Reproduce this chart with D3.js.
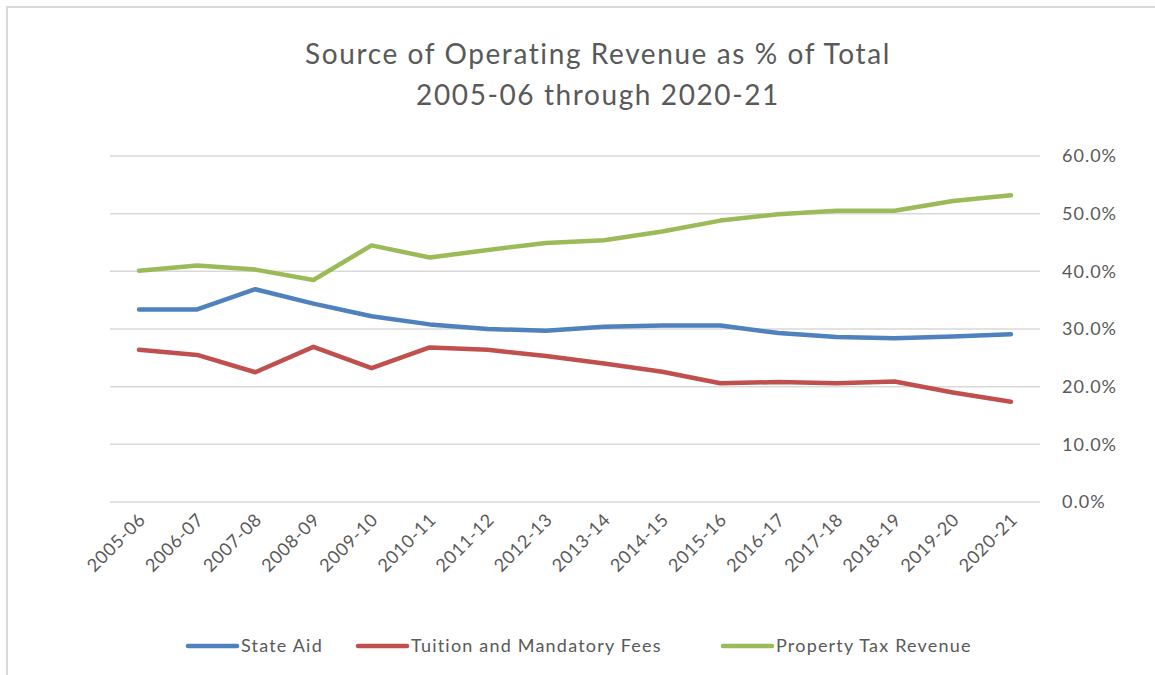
<!DOCTYPE html>
<html>
<head>
<meta charset="utf-8">
<script src="https://cdn.jsdelivr.net/npm/d3@7"></script>
<style>
  body { margin: 0; background: #fff; }
  text { font-family: Lato, "Open Sans", sans-serif; fill: #595959; }
</style>
</head>
<body>
<script>
const width = 1155;
const height = 675;

// school years along the x axis
const years = ["2005-06", "2006-07", "2007-08", "2008-09", "2009-10", "2010-11", "2011-12", "2012-13",
	"2013-14", "2014-15", "2015-16", "2016-17", "2017-18", "2018-19", "2019-20", "2020-21"];

// percent of total
const stateAid = [33.4, 33.4, 36.9, 34.4, 32.2, 30.8, 30.0, 29.7, 30.4, 30.6, 30.6, 29.3, 28.6, 28.4, 28.7, 29.1];
const tuition = [26.4, 25.5, 22.5, 26.9, 23.2, 26.8, 26.4, 25.3, 24.0, 22.6, 20.6, 20.8, 20.6, 20.9, 19.0, 17.4];
const propertyTax = [40.1, 41.0, 40.3, 38.5, 44.5, 42.4, 43.7, 44.9, 45.4, 46.9, 48.8, 49.9, 50.5, 50.5, 52.2, 53.2];

const yTicks = [0, 10, 20, 30, 40, 50, 60];

const seriesNames = ["State Aid", "Tuition and Mandatory Fees", "Property Tax Revenue"];
const seriesColors = ["#4f81bd", "#c0504d", "#9bbb59"];

const series = [stateAid, tuition, propertyTax].map((values, i) => ({
	name: seriesNames[i],
	color: seriesColors[i],
	values: values
}));

const svg = d3.select("body")
	.append("svg")
	.attr("width", width)
	.attr("height", height);

// outer frame
svg.append("rect")
	.attr("x", 7)
	.attr("y", 7)
	.attr("width", 1160)
	.attr("height", 680)
	.attr("fill", "none")
	.attr("stroke", "#d9d9d9")
	.attr("stroke-width", 2);

const plotLeft = 110, plotRight = 1040, plotTop = 156, plotBottom = 502;

const x = d3.scalePoint()
	.domain(years)
	.range([plotLeft, plotRight])
	.padding(0.5);

const y = d3.scaleLinear()
	.domain([0, 60])
	.range([plotBottom, plotTop]);

// title
const titleLines = ["Source of Operating Revenue as % of Total", "2005-06 through 2020-21"];
svg.append("g")
	.selectAll("text")
	.data(titleLines)
	.enter()
	.append("text")
	.attr("x", 598)
	.attr("y", (d, i) => 64 + i * 41)
	.attr("text-anchor", "middle")
	.style("font-size", "28px")
	.style("letter-spacing", "1.6px")
	.text(d => d);

// gridlines
svg.append("g")
	.selectAll("line")
	.data(yTicks)
	.enter()
	.append("line")
	.attr("x1", plotLeft)
	.attr("x2", plotRight)
	.attr("y1", d => y(d))
	.attr("y2", d => y(d))
	.attr("stroke", "#d9d9d9")
	.attr("stroke-width", 1.5);

// right axis labels
const yAxis = svg.append("g")
	.attr("transform", `translate(${plotRight}, 0)`)
	.call(d3.axisRight(y).tickValues(yTicks).tickSize(0).tickPadding(22).tickFormat(d => d3.format(".1f")(d) + "%"));
yAxis.select(".domain").remove();
yAxis.selectAll("text")
	.attr("fill", "#595959")
	.style("font-family", "Lato, sans-serif")
	.style("font-size", "18px")
	.style("letter-spacing", "1px");

// bottom axis labels, rotated
const xAxis = svg.append("g")
	.attr("transform", `translate(0, ${plotBottom})`)
	.call(d3.axisBottom(x).tickSize(0).tickPadding(0));
xAxis.select(".domain").remove();
xAxis.selectAll("text")
	.attr("fill", "#595959")
	.style("font-family", "Lato, sans-serif")
	.style("font-size", "18px")
	.style("letter-spacing", "0.6px")
	.attr("text-anchor", "end")
	.attr("dy", null)
	.attr("y", 0)
	.attr("transform", d => "translate(7, 19) rotate(-45)");

// lines
const line = d3.line()
	.x((d, i) => x(years[i]))
	.y(d => y(d));

svg.append("g")
	.selectAll("path")
	.data(series)
	.enter()
	.append("path")
	.attr("d", d => line(d.values))
	.attr("fill", "none")
	.attr("stroke", d => d.color)
	.attr("stroke-width", 4.5)
	.attr("stroke-linejoin", "round")
	.attr("stroke-linecap", "round");

// legend
const legendX = [188, 358, 723];
const legend = svg.append("g")
	.selectAll("g")
	.data(series)
	.enter()
	.append("g")
	.attr("transform", (d, i) => `translate(${legendX[i]}, 646)`);

legend.append("line")
	.attr("x1", 0)
	.attr("x2", 49)
	.attr("stroke", d => d.color)
	.attr("stroke-width", 4.5)
	.attr("stroke-linecap", "round");

legend.append("text")
	.attr("x", 53)
	.attr("dy", "0.35em")
	.style("font-size", "18px")
	.style("letter-spacing", "1.2px")
	.text(d => d.name);
</script>
</body>
</html>
